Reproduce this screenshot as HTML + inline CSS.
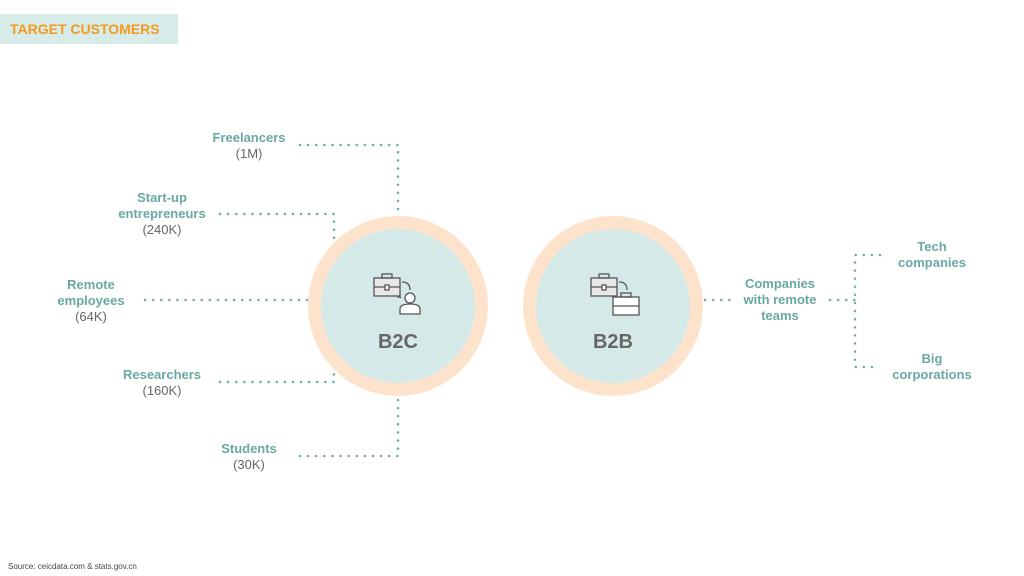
<!DOCTYPE html><html><head><style>
body{margin:0;width:1024px;height:576px;background:#fff;position:relative;overflow:hidden;font-family:"Liberation Sans",sans-serif}
.hd{position:absolute;left:0;top:14px;width:178px;height:30px;background:#d7ebe9;color:#f39a1e;font-weight:bold;font-size:14px;line-height:30px;padding-left:10px;box-sizing:border-box}
.l{position:absolute;text-align:center;font-size:13px;line-height:16px;color:#6aa9a0;font-weight:bold;transform:translateX(-50%);white-space:nowrap}
.l span{color:#666;font-weight:normal}
.src{position:absolute;left:8px;top:562px;font-size:8px;color:#444}
</style></head><body>
<div class="hd">TARGET CUSTOMERS</div>
<svg width="1024" height="576" style="position:absolute;left:0;top:0">
<g stroke="#6fb0a6" stroke-width="2.5" stroke-dasharray="0.1 8" stroke-linecap="round" fill="none">
<path d="M300 145H398V210"/>
<path d="M220 214H334V240"/>
<path d="M145 300H308"/>
<path d="M220 382H334V368"/>
<path d="M300 456H398V394"/>
<path d="M705 300H735"/>
<path d="M830 300H855"/>
<path d="M880 255H855V367H880"/>
</g>
<circle cx="398" cy="306" r="90" fill="#fde3cc"/><circle cx="398" cy="306" r="77" fill="#d5eae8"/>
<circle cx="613" cy="306" r="90" fill="#fde3cc"/><circle cx="613" cy="306" r="77" fill="#d5eae8"/>
<g stroke="#555" stroke-width="1.3" fill="#e8e8e8">
<rect x="374" y="278" width="26" height="18"/><rect x="382" y="274" width="10" height="4" fill="none"/>
<line x1="374" y1="287" x2="400" y2="287"/><rect x="385" y="285" width="4" height="5" fill="#fff"/>
<path d="M402 282q8 0 8 8" fill="none"/><path d="M398 298q0 -3 3 0" fill="none"/>
<circle cx="410" cy="298" r="5" fill="#fff"/><path d="M400 314v-5q0-5 10-5t10 5v5z" fill="#fff"/>
<rect x="591" y="278" width="26" height="18"/><rect x="599" y="274" width="10" height="4" fill="none"/>
<line x1="591" y1="287" x2="617" y2="287"/><rect x="602" y="285" width="4" height="5" fill="#fff"/>
<path d="M619 282q8 0 8 8" fill="none"/>
<rect x="613" y="297" width="26" height="18" fill="#fff"/><rect x="621" y="293" width="10" height="4" fill="none"/>
<line x1="613" y1="306" x2="639" y2="306"/>
</g>
<text x="398" y="348" text-anchor="middle" font-family="Liberation Sans" font-weight="bold" font-size="20" fill="#666">B2C</text>
<text x="613" y="348" text-anchor="middle" font-family="Liberation Sans" font-weight="bold" font-size="20" fill="#666">B2B</text>
</svg>
<div class="l" style="left:249px;top:130px">Freelancers<br><span>(1M)</span></div>
<div class="l" style="left:162px;top:190px">Start-up<br>entrepreneurs<br><span>(240K)</span></div>
<div class="l" style="left:91px;top:277px">Remote<br>employees<br><span>(64K)</span></div>
<div class="l" style="left:162px;top:367px">Researchers<br><span>(160K)</span></div>
<div class="l" style="left:249px;top:441px">Students<br><span>(30K)</span></div>
<div class="l" style="left:780px;top:276px">Companies<br>with remote<br>teams</div>
<div class="l" style="left:932px;top:239px">Tech<br>companies</div>
<div class="l" style="left:932px;top:351px">Big<br>corporations</div>
<div class="src">Source: ceicdata.com &amp; stats.gov.cn</div>
</body></html>
